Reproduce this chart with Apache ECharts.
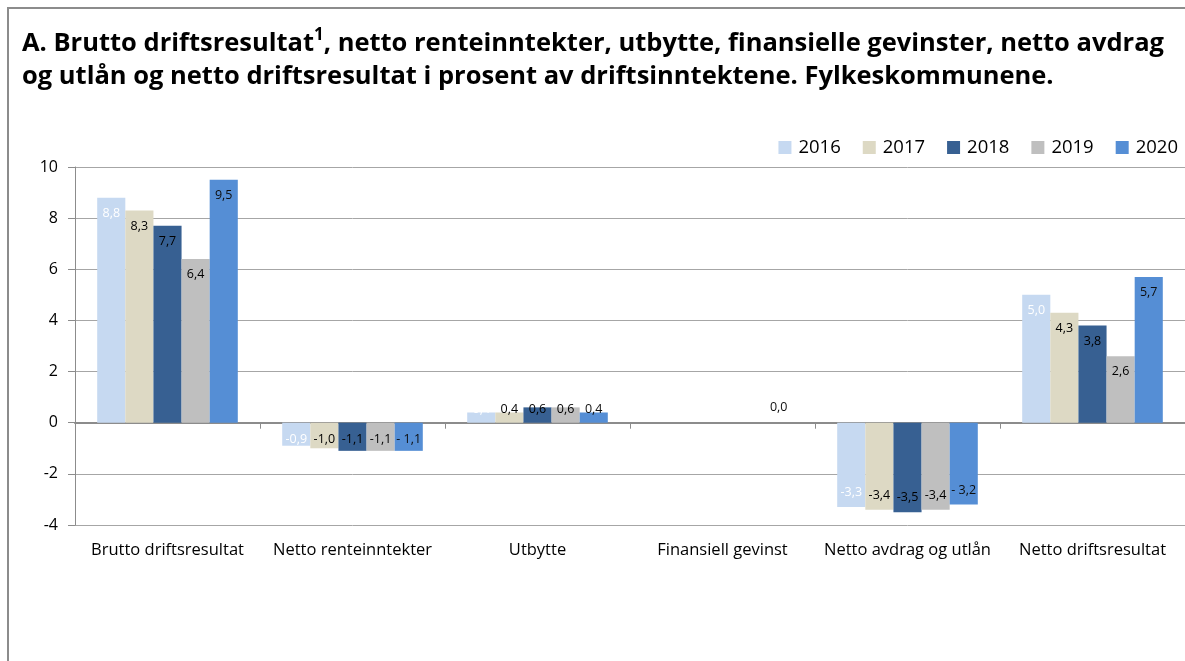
<!DOCTYPE html>
<html><head><meta charset="utf-8">
<script src="https://cdn.jsdelivr.net/npm/echarts@6/dist/echarts.min.js"></script>
<style>html,body{margin:0;padding:0;background:#fff}#c{width:1185px;height:661px}</style>
</head><body><div id="c"></div>
<script>
const categories = ['Brutto driftsresultat','Netto renteinntekter','Utbytte','Finansiell gevinst','Netto avdrag og utlån','Netto driftsresultat'];
const years = ['2016','2017','2018','2019','2020'];
const v2016 = [8.8, -0.9, 0.4, null, -3.3, 5.0];
const v2017 = [8.3, -1.0, 0.4, null, -3.4, 4.3];
const v2018 = [7.7, -1.1, 0.6, null, -3.5, 3.8];
const v2019 = [6.4, -1.1, 0.6, 0.0, -3.4, 2.6];
const v2020 = [9.5, -1.1, 0.4, 0.0, -3.2, 5.7];
const hiddenLabels = {'2019': [3]};
const yTicks = [-4, -2, 0, 2, 4, 6, 8, 10];

const colors = ['#C6D9F1', '#DDD9C4', '#376092', '#BFBFBF', '#558ED5'];
const labelColors = ['#ffffff', '#000000', '#000000', '#000000', '#0d0d0d'];
const FONT = 'Open Sans';
const all = [v2016, v2017, v2018, v2019, v2020];

function fmt(v, yi) {
  const s = Math.abs(v).toFixed(1).replace('.', ',');
  if (v < 0) return (yi === 4 ? '- ' : '-') + s;
  return s;
}
function labelFor(v, yi, ci) {
  const hide = (hiddenLabels[years[yi]] || []).includes(ci);
  if (v === null) return {show: false};
  if (hide) return {show: false};
  let pos, dist;
  if (v === 0) { pos = 'top'; dist = 9; }
  else if (v >= 1) { pos = 'insideTop'; dist = 9; }
  else if (v > 0) { pos = 'insideBottom'; dist = 7; }
  else if (v <= -2) { pos = 'insideBottom'; dist = 8; }
  else { pos = 'insideTop'; dist = 10; }
  return {show: true, position: pos, distance: dist};
}

const series = all.map((arr, yi) => ({
  name: years[yi],
  type: 'bar',
  xAxisIndex: 0,
  barGap: '0%',
  barCategoryGap: '24%',
  itemStyle: {color: colors[yi]},
  label: {
    show: true, fontFamily: FONT, fontSize: 12.5, color: labelColors[yi],
    formatter: p => fmt(p.value, yi)
  },
  data: arr.map((v, ci) => ({value: v, label: labelFor(v, yi, ci)}))
}));

const chart = echarts.init(document.getElementById('c'), null, {renderer: 'canvas'});
chart.setOption({
  animation: false,
  backgroundColor: '#fff',
  title: {
    text: 'A. Brutto driftsresultat{sup|1}, netto renteinntekter, utbytte, finansielle gevinster, netto avdrag\nog utlån og netto driftsresultat i prosent av driftsinntektene. Fylkeskommunene.',
    left: 17, top: 22,
    textStyle: {
      fontFamily: FONT, fontWeight: 'bold', fontSize: 25.5, color: '#000', lineHeight: 33,
      rich: {sup: {fontFamily: FONT, fontWeight: 'bold', fontSize: 17, verticalAlign: 'top', padding: [0,0,11,0], lineHeight: 33}}
    }
  },
  legend: {
    right: 2, top: 133, icon: 'rect', itemWidth: 13, itemHeight: 13, itemGap: 22,
    textStyle: {fontFamily: FONT, fontSize: 18.5, color: '#000', padding: [0,0,0,2]},
    data: years
  },
  grid: {left: 75, right: 0, top: 167, bottom: 136, containLabel: false},
  xAxis: [{
    type: 'category', data: categories, position: 'bottom',
    axisLine: {show: false, onZero: false}, axisTick: {show: false},
    axisLabel: {fontFamily: FONT, fontSize: 16.5, color: '#000', margin: 17, interval: 0}
  }, {
    type: 'category', data: categories, position: 'bottom',
    axisLine: {show: true, onZero: true, lineStyle: {color: '#8c8c8c', width: 2}},
    axisTick: {show: true, length: 6, lineStyle: {color: '#8c8c8c', width: 1}},
    axisLabel: {show: false}
  }],
  yAxis: {
    type: 'value', min: yTicks[0], max: yTicks[yTicks.length-1], interval: 2,
    axisLine: {show: true, lineStyle: {color: '#8c8c8c', width: 1}},
    axisTick: {show: true, length: 7, lineStyle: {color: '#8c8c8c'}},
    splitLine: {lineStyle: {color: '#a6a6a6', width: 1}},
    axisLabel: {fontFamily: FONT, fontSize: 16, color: '#000', margin: 17}
  },
  graphic: [{
    type: 'rect', silent: true, z: 100,
    shape: {x: 8, y: 8, width: 1200, height: 700},
    style: {fill: 'none', stroke: '#8c8c8c', lineWidth: 2}
  }],
  series: series
});
</script></body></html>
